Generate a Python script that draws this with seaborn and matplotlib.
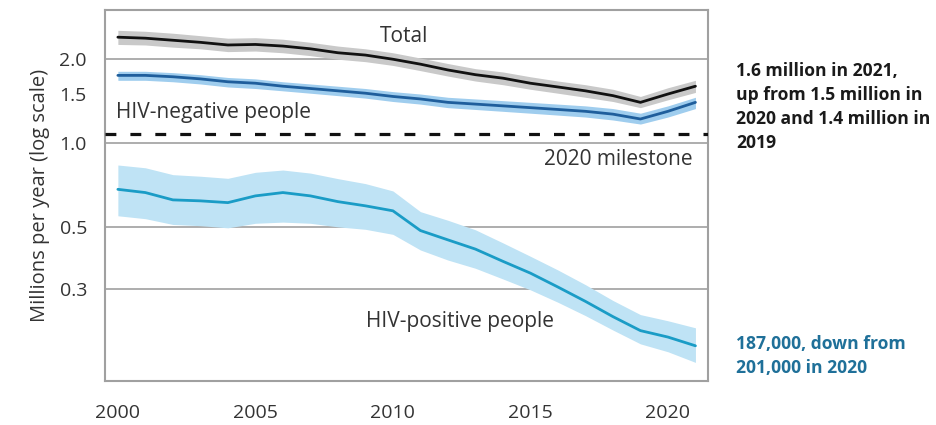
import numpy as np
import pandas as pd
import matplotlib
matplotlib.use("Agg")
import matplotlib.pyplot as plt
import seaborn as sns

# TB deaths, millions per year
years = list(range(2000, 2022))

total = [2.40, 2.38, 2.34, 2.30, 2.25, 2.26, 2.23, 2.18, 2.11, 2.07, 2.00,
         1.92, 1.83, 1.76, 1.71, 1.64, 1.59, 1.54, 1.48, 1.40, 1.50, 1.60]
total_lo = [2.26, 2.25, 2.21, 2.18, 2.13, 2.14, 2.11, 2.06, 2.00, 1.96, 1.90,
            1.82, 1.74, 1.67, 1.62, 1.56, 1.51, 1.46, 1.41, 1.34, 1.43, 1.52]
total_hi = [2.54, 2.52, 2.48, 2.43, 2.38, 2.39, 2.36, 2.30, 2.23, 2.18, 2.11,
            2.02, 1.93, 1.85, 1.80, 1.73, 1.67, 1.62, 1.56, 1.47, 1.58, 1.68]

hiv_neg = [1.75, 1.75, 1.73, 1.70, 1.66, 1.64, 1.60, 1.57, 1.54, 1.51, 1.47,
           1.44, 1.40, 1.38, 1.36, 1.34, 1.32, 1.30, 1.27, 1.22, 1.30, 1.40]
hiv_neg_lo = [1.68, 1.68, 1.66, 1.63, 1.59, 1.57, 1.54, 1.51, 1.48, 1.45, 1.41,
              1.38, 1.34, 1.32, 1.30, 1.28, 1.26, 1.24, 1.21, 1.17, 1.24, 1.33]
hiv_neg_hi = [1.81, 1.81, 1.79, 1.76, 1.72, 1.70, 1.66, 1.63, 1.60, 1.57, 1.53,
              1.50, 1.46, 1.44, 1.42, 1.40, 1.38, 1.36, 1.33, 1.28, 1.36, 1.46]

hiv_pos = [0.682, 0.664, 0.625, 0.620, 0.611, 0.646, 0.664, 0.646, 0.616, 0.595, 0.571,
           0.485, 0.449, 0.416, 0.376, 0.341, 0.304, 0.270, 0.238, 0.212, 0.201, 0.187]
hiv_pos_lo = [0.548, 0.535, 0.510, 0.505, 0.496, 0.515, 0.520, 0.515, 0.500, 0.490, 0.470,
              0.413, 0.380, 0.355, 0.325, 0.297, 0.268, 0.240, 0.213, 0.190, 0.178, 0.163]
hiv_pos_hi = [0.834, 0.815, 0.770, 0.760, 0.747, 0.785, 0.800, 0.780, 0.745, 0.715, 0.673,
              0.567, 0.528, 0.488, 0.438, 0.392, 0.350, 0.310, 0.272, 0.242, 0.230, 0.217]

milestone_2020 = 1.08

yticks = [0.3, 0.5, 1.0, 1.5, 2.0]
ytick_labels = ["0.3", "0.5", "1.0", "1.5", "2.0"]
xticks = [2000, 2005, 2010, 2015, 2020]

df = pd.DataFrame({
    "year": years * 3,
    "deaths": total + hiv_neg + hiv_pos,
    "group": ["Total"] * 22 + ["HIV-negative"] * 22 + ["HIV-positive"] * 22,
})

sns.set_style("white")
plt.rcParams["font.family"] = ["Open Sans", "DejaVu Sans"]

fig = plt.figure(figsize=(9.37, 4.25), dpi=100)
ax = fig.add_axes([0.112, 0.104, 0.644, 0.872])

band_specs = [
    (total_lo, total_hi, "#c9c9c9"),
    (hiv_neg_lo, hiv_neg_hi, "#9fcdee"),
    (hiv_pos_lo, hiv_pos_hi, "#bfe3f5"),
]
for lo, hi, col in band_specs:
    ax.fill_between(years, lo, hi, color=col, lw=0, zorder=2)

palette = {"Total": "#111111", "HIV-negative": "#1f5e9c", "HIV-positive": "#1a9cc6"}
sns.lineplot(data=df, x="year", y="deaths", hue="group", palette=palette,
             linewidth=2.0, legend=False, ax=ax, zorder=3)

ax.axhline(milestone_2020, color="#111111", lw=2.3, dashes=(3.4, 4.4), zorder=4)

ax.set_yscale("log")
ax.set_ylim(0.14, 3.0)
ax.set_xlim(1999.53, 2021.47)
ax.set_yticks(yticks)
ax.set_yticklabels(ytick_labels)
ax.yaxis.set_minor_locator(matplotlib.ticker.NullLocator())
ax.set_xticks(xticks)
ax.set_xticklabels([str(x) for x in xticks])

ax.grid(axis="y", color="#a0a0a0", lw=1.2, zorder=1)
ax.set_axisbelow(True)
for t, v in zip(ax.yaxis.get_major_ticks(), yticks):
    if v == 1.5:
        t.tick1line.set_visible(False)
        t.gridline.set_visible(False)

ax.tick_params(axis="y", length=9, width=1.2, color="#a0a0a0", pad=4,
               labelsize=14, labelcolor="#333333")
ax.tick_params(axis="x", length=9, width=1.2, color="#a0a0a0", pad=8,
               labelsize=14, labelcolor="#333333")
for s in ax.spines.values():
    s.set_color("#a0a0a0")
    s.set_linewidth(1.5)

ax.set_xlabel("")
ax.set_ylabel("Millions per year (log scale)", fontsize=14.5, color="#333333", labelpad=7)

txt = dict(fontsize=15, color="#333333")
ax.text(2010.4, 2.42, "Total", ha="center", va="center", **txt)
ax.text(1999.5 + 0.45, 1.29, "HIV-negative people", ha="left", va="center", **txt)
ax.text(2020.9, 0.87, "2020 milestone", ha="right", va="center", **txt)
ax.text(2015.85, 0.228, "HIV-positive people", ha="right", va="center", **txt)

note = dict(ha="left", va="center", fontsize=12.6, fontweight="bold",
            linespacing=1.42, family=["Open Sans", "DejaVu Sans"])
fig.text(0.786, 0.748, "1.6 million in 2021,\nup from 1.5 million in\n2020 and 1.4 million in\n2019",
         color="#1a1a1a", **note)
fig.text(0.786, 0.162, "187,000, down from\n201,000 in 2020",
         color="#1f7099", **note)

fig.savefig("out.png", dpi=100)
